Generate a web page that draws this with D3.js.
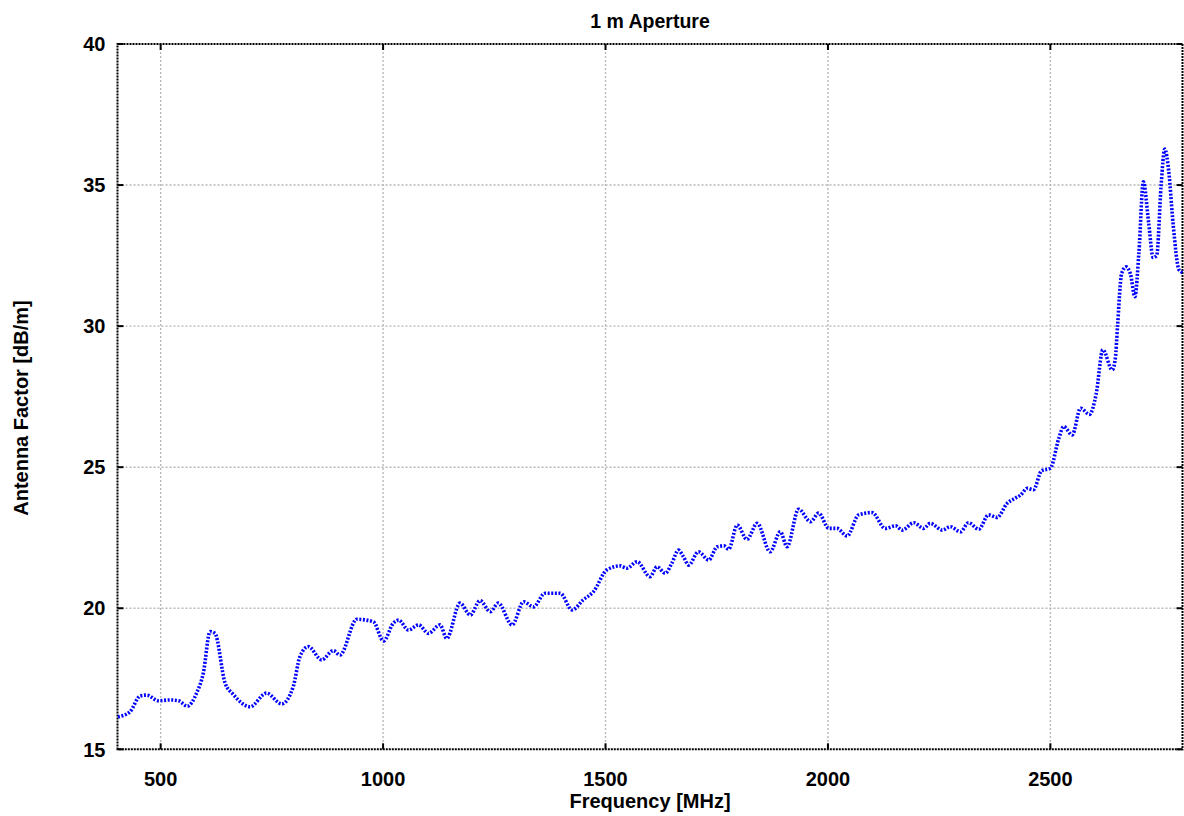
<!DOCTYPE html>
<html>
<head>
<meta charset="utf-8">
<script src="https://cdn.jsdelivr.net/npm/d3@7"></script>
<style>
  body { margin: 0; background: #fff; }
  text { font-family: "Liberation Sans", Arial, sans-serif; font-weight: bold; fill: #000; }
</style>
</head>
<body>
<div id="chart"></div>
<script>
// values
var freq = [404, 431, 454, 469, 495, 521, 540, 560, 581, 596, 611, 622, 645, 663, 701, 738, 772, 798,
  813, 832, 862, 888, 903, 941, 978, 1001, 1023, 1035, 1057, 1080, 1102, 1128, 1143, 1173, 1196,
  1218, 1241, 1259, 1290, 1316, 1338, 1364, 1398, 1425, 1450, 1473, 1503, 1533, 1548, 1571, 1600,
  1616, 1634, 1649, 1664, 1675, 1687, 1709, 1732, 1751, 1766, 1777, 1796, 1818, 1841, 1870, 1893,
  1908, 1934, 1961, 1979, 2002, 2020, 2043, 2069, 2099, 2129, 2152, 2167, 2193, 2215, 2230, 2257,
  2275, 2298, 2316, 2339, 2361, 2380, 2403, 2421, 2433, 2448, 2462, 2480, 2500, 2519, 2530, 2549,
  2568, 2588, 2603, 2618, 2639, 2646, 2651, 2660, 2670, 2680, 2690, 2699, 2709, 2721, 2731, 2739,
  2749, 2757, 2766, 2776, 2789, 2797];
var antennaFactor = [16.15, 16.33, 16.89, 16.92, 16.72, 16.75, 16.72, 16.53, 17.0, 17.71, 19.17, 19.11,
  17.34, 16.95, 16.51, 16.99, 16.61, 17.22, 18.28, 18.64, 18.17, 18.5, 18.34, 19.61, 19.52, 18.84,
  19.47, 19.58, 19.23, 19.41, 19.11, 19.41, 18.93, 20.18, 19.76, 20.27, 19.88, 20.18, 19.41, 20.23,
  20.05, 20.53, 20.53, 19.94, 20.3, 20.59, 21.36, 21.5, 21.42, 21.65, 21.12, 21.47, 21.24, 21.59,
  22.06, 21.83, 21.53, 22.0, 21.71, 22.18, 22.21, 22.09, 22.95, 22.44, 23.01, 22.0, 22.71, 22.18,
  23.51, 23.07, 23.37, 22.83, 22.83, 22.56, 23.31, 23.39, 22.83, 22.92, 22.77, 23.03, 22.83, 23.01,
  22.77, 22.89, 22.71, 23.03, 22.8, 23.31, 23.22, 23.72, 23.9, 24.01, 24.25, 24.2, 24.87, 24.96,
  26.02, 26.44, 26.14, 27.09, 26.87, 27.6, 29.16, 28.45, 28.85, 30.0, 31.85, 32.1, 31.85, 31.04,
  32.6, 35.12, 33.65, 32.43, 32.5, 35.0, 36.28, 35.5, 33.6, 32.0, 31.9];
var xTicks = [500, 1000, 1500, 2000, 2500];
var yTicks = [15, 20, 25, 30, 35, 40];

var width = 1184, height = 816;
var margin = {top: 44, right: 1.5, bottom: 66.7, left: 117.5};
var w = width - margin.left - margin.right,
    h = height - margin.top - margin.bottom;

var svg = d3.select("#chart").append("svg")
    .attr("width", width)
    .attr("height", height);

var g = svg.append("g")
    .attr("transform", "translate(" + margin.left + "," + margin.top + ")");

var x = d3.scaleLinear().domain([403, 2797]).range([0, w]);
var y = d3.scaleLinear().domain([15, 40]).range([h, 0]);

// grid
g.selectAll(".vgrid").data(xTicks).enter().append("line")
    .attr("x1", d => x(d)).attr("x2", d => x(d))
    .attr("y1", 0).attr("y2", h)
    .attr("stroke", "#b8b8b8").attr("stroke-width", 1.4)
    .attr("stroke-dasharray", "2,2");
g.selectAll(".hgrid").data(yTicks.slice(1, -1)).enter().append("line")
    .attr("x1", 0).attr("x2", w)
    .attr("y1", d => y(d)).attr("y2", d => y(d))
    .attr("stroke", "#b8b8b8").attr("stroke-width", 1.4)
    .attr("stroke-dasharray", "2,2");

// inward ticks on all four sides
var tk = 6;
xTicks.forEach(function(d){
  g.append("line").attr("x1", x(d)).attr("x2", x(d)).attr("y1", h).attr("y2", h - tk)
    .attr("stroke", "#000").attr("stroke-width", 2);
  g.append("line").attr("x1", x(d)).attr("x2", x(d)).attr("y1", 0).attr("y2", tk)
    .attr("stroke", "#000").attr("stroke-width", 2);
});
yTicks.forEach(function(d){
  g.append("line").attr("x1", 0).attr("x2", tk).attr("y1", y(d)).attr("y2", y(d))
    .attr("stroke", "#000").attr("stroke-width", 2);
  g.append("line").attr("x1", w).attr("x2", w - tk).attr("y1", y(d)).attr("y2", y(d))
    .attr("stroke", "#000").attr("stroke-width", 2);
});

// frame
g.append("rect")
    .attr("x", 0).attr("y", 0).attr("width", w).attr("height", h)
    .attr("fill", "none").attr("stroke", "#000").attr("stroke-width", 2)
    .attr("stroke-dasharray", "2,1");

// tick labels
g.selectAll(".xlab").data(xTicks).enter().append("text")
    .attr("x", d => x(d)).attr("y", h + 37)
    .attr("text-anchor", "middle").style("font-size", "20px")
    .text(d => d);
g.selectAll(".ylab").data(yTicks).enter().append("text")
    .attr("x", -12).attr("y", d => y(d)).attr("dy", "0.36em")
    .attr("text-anchor", "end").style("font-size", "20px")
    .text(d => d);

// data line
var pts = freq.map((f, i) => [f, antennaFactor[i]]);
g.append("path")
    .datum(pts)
    .attr("fill", "none")
    .attr("stroke", "#0000ff")
    .attr("stroke-width", 3.6)
    .attr("stroke-dasharray", "2,1.6")
    .attr("d", d3.line()
      .curve(d3.curveMonotoneX)
      .x(d => x(d[0]))
      .y(d => y(d[1])));

// titles
svg.append("text")
    .attr("x", 650).attr("y", 27.5)
    .attr("text-anchor", "middle").style("font-size", "19.5px")
    .text("1 m Aperture");
svg.append("text")
    .attr("x", 650).attr("y", 808)
    .attr("text-anchor", "middle").style("font-size", "20px")
    .text("Frequency [MHz]");
svg.append("text")
    .attr("transform", "translate(28,408) rotate(-90)")
    .attr("text-anchor", "middle").style("font-size", "20px")
    .text("Antenna Factor [dB/m]");
</script>
</body>
</html>
